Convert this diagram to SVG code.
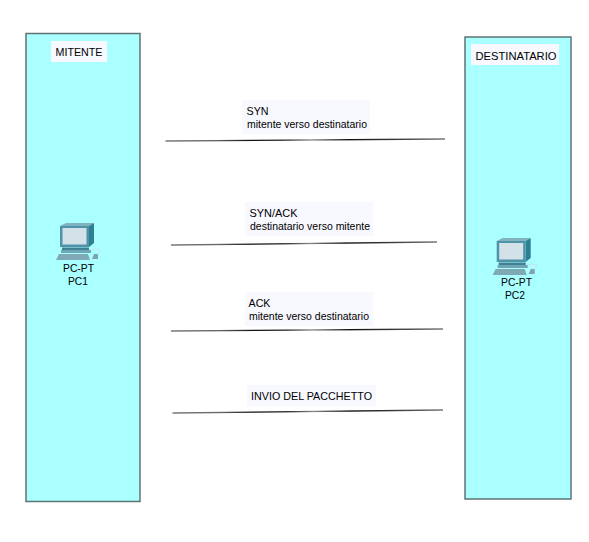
<svg xmlns="http://www.w3.org/2000/svg" xmlns:xlink="http://www.w3.org/1999/xlink" width="589" height="542" viewBox="0 0 589 542">
<style>
text{font-family:"Liberation Sans",Arial,sans-serif;font-size:11.5px;fill:#000}
.panel{fill:#aaffff;stroke:#5f7373;stroke-width:1.5}
.tag{fill:#f8f8ff}
.wire{fill:none;stroke:url(#wireGrad);stroke-width:1.3}
</style>
<defs>
<linearGradient id="wireGrad" x1="0" y1="0" x2="1" y2="0">
<stop offset="0" stop-color="#777"/><stop offset=".18" stop-color="#666"/><stop offset=".3" stop-color="#111"/><stop offset=".42" stop-color="#222"/><stop offset=".52" stop-color="#888"/><stop offset=".66" stop-color="#111"/><stop offset=".8" stop-color="#333"/><stop offset="1" stop-color="#777"/>
</linearGradient>
<g id="pcIcon">
<polygon points="60,226 66,223 94,223 89,226" fill="#7fb3c0"/>
<polygon points="89,226 94,223 94,243 89,247" fill="#2f7f93"/>
<rect x="60" y="226" width="29" height="21" fill="#4f93a8"/>
<rect x="62.500" y="228" width="24" height="16.500" fill="#d3e2e8"/>
<rect x="62" y="247.500" width="27" height="2.500" fill="#3f8095"/>
<rect x="61" y="250" width="30" height="3" fill="#6fa5b5"/>
<polygon points="56,260 59,254 88,254 90,260" fill="#7fa9b5"/>
<polygon points="92,259 94,254 98,254 98,259" fill="#7fa3ae"/>
<path d="M90,250 Q97,248 100,250 Q101,253 97,254" fill="none" stroke="#c6dde2" stroke-width=".8"/>
</g>
</defs>
<rect width="589" height="542" fill="#fff"/>
<g id="mitente">
<rect class="panel" x="26" y="33.500" width="114" height="468"/>
<rect class="tag" x="51" y="41" width="56" height="21"/>
<text x="55.500" y="56" textLength="47" lengthAdjust="spacingAndGlyphs">MITENTE</text>
</g>
<g id="destinatario">
<rect class="panel" x="465" y="37" width="106" height="462"/>
<rect class="tag" x="471" y="44" width="88" height="21"/>
<text x="475.500" y="60" textLength="81" lengthAdjust="spacingAndGlyphs">DESTINATARIO</text>
</g>
<g id="pc1">
<use xlink:href="#pcIcon" href="#pcIcon"/>
<text x="63" y="272" textLength="31" lengthAdjust="spacingAndGlyphs">PC-PT</text>
<text x="68" y="285" textLength="20" lengthAdjust="spacingAndGlyphs">PC1</text>
</g>
<g id="pc2">
<use xlink:href="#pcIcon" href="#pcIcon" transform="translate(436.700 15)"/>
<text x="501" y="286" textLength="31" lengthAdjust="spacingAndGlyphs">PC-PT</text>
<text x="505" y="299" textLength="20" lengthAdjust="spacingAndGlyphs">PC2</text>
</g>
<g id="connectors">
<line class="wire" x1="165.500" y1="141" x2="445" y2="139"/>
<line class="wire" x1="171" y1="245" x2="437" y2="242"/>
<line class="wire" x1="171" y1="331" x2="443" y2="329"/>
<line class="wire" x1="172.500" y1="413" x2="443" y2="410"/>
</g>
<g id="label-syn">
<rect class="tag" x="242" y="100" width="128" height="34"/>
<text x="246.500" y="115" textLength="22" lengthAdjust="spacingAndGlyphs">SYN</text>
<text x="247" y="128" textLength="120" lengthAdjust="spacingAndGlyphs">mitente verso destinatario</text>
</g>
<g id="label-synack">
<rect class="tag" x="245" y="202" width="128" height="34"/>
<text x="249.500" y="217" textLength="48" lengthAdjust="spacingAndGlyphs">SYN/ACK</text>
<text x="250" y="229.500" textLength="120" lengthAdjust="spacingAndGlyphs">destinatario verso mitente</text>
</g>
<g id="label-ack">
<rect class="tag" x="245" y="292" width="128" height="34"/>
<text x="248.500" y="307" textLength="22" lengthAdjust="spacingAndGlyphs">ACK</text>
<text x="249" y="320" textLength="120" lengthAdjust="spacingAndGlyphs">mitente verso destinatario</text>
</g>
<g id="label-invio">
<rect class="tag" x="247" y="385" width="129" height="21"/>
<text x="251" y="400" textLength="121" lengthAdjust="spacingAndGlyphs">INVIO DEL PACCHETTO</text>
</g>
</svg>
